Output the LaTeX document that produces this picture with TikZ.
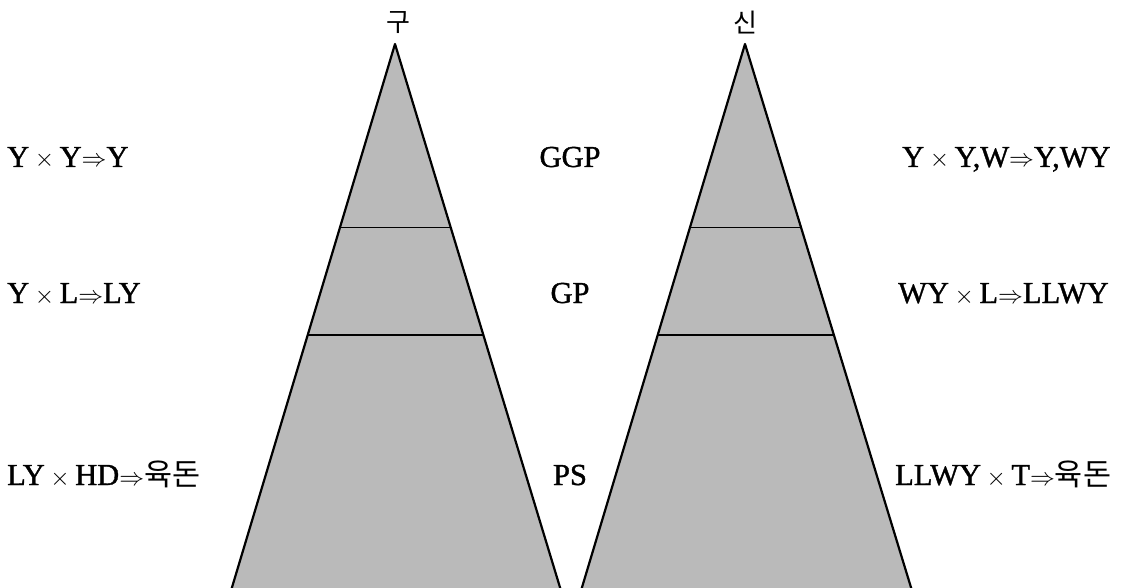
\documentclass[tikz,border=0pt]{standalone}
\usepackage{fontspec}
\usetikzlibrary{calc}
\setmainfont{Liberation Serif}[FakeBold=1.2]
\newfontfamily\kr{Noto Sans CJK KR}
\newcommand{\mx}{$\mkern4mu\times\mkern4mu$}
\newcommand{\ra}{$\Rightarrow$}
\begin{document}
\begin{tikzpicture}[x=1pt,y=-1pt,
  tri/.style={fill=black!27,draw=black,line width=2.2pt,line join=round},
  div/.style={draw=black,line width=1.1pt},
  lbl/.style={font=\fontsize{30.5}{33}\selectfont,inner sep=0pt},
  ttl/.style={font=\kr\fontsize{26}{28}\selectfont,inner sep=0pt}]
\useasboundingbox (0,0) rectangle (1124,588);
% left triangle
\coordinate (LA) at (395,44);
\coordinate (LL) at (230,594);
\coordinate (LR) at (562,594);
\draw[tri] (LL) -- (LA) -- (LR);
\draw[div] ($(LA)!0.333!(LL)$) -- ($(LA)!0.333!(LR)$);
\draw[div] ($(LA)!0.529!(LL)$) -- ($(LA)!0.529!(LR)$);
% right triangle
\coordinate (RA) at (745,44);
\coordinate (RL) at (580,594);
\coordinate (RR) at (913,594);
\draw[tri] (RL) -- (RA) -- (RR);
\draw[div] ($(RA)!0.333!(RL)$) -- ($(RA)!0.333!(RR)$);
\draw[div] ($(RA)!0.529!(RL)$) -- ($(RA)!0.529!(RR)$);
% titles
\node[ttl] (tg) at (398,23) {구};
\node[ttl] (ts) at (745,23) {신};
% left texts
\node[lbl,anchor=base west] (l1) at (7,167) {Y\mx Y\ra Y};
\node[lbl,anchor=base west] (l2) at (7,303) {Y\mx L\ra LY};
\node[lbl,anchor=base west] (l3) at (7,485) {LY\mx HD\ra{\kr 육돈}};
% middle
\node[lbl,anchor=base] (m1) at (570,167) {GGP};
\node[lbl,anchor=base] (m2) at (570,303) {GP};
\node[lbl,anchor=base] (m3) at (570,485) {PS};
% right texts
\node[lbl,anchor=base west] (r1) at (902,167) {Y\mx Y,W\ra Y,WY};
\node[lbl,anchor=base west] (r2) at (898,303) {WY\mx L\ra LLWY};
\node[lbl,anchor=base west] (r3) at (895,485) {LLWY\mx T\ra{\kr 육돈}};
\end{tikzpicture}
\end{document}
